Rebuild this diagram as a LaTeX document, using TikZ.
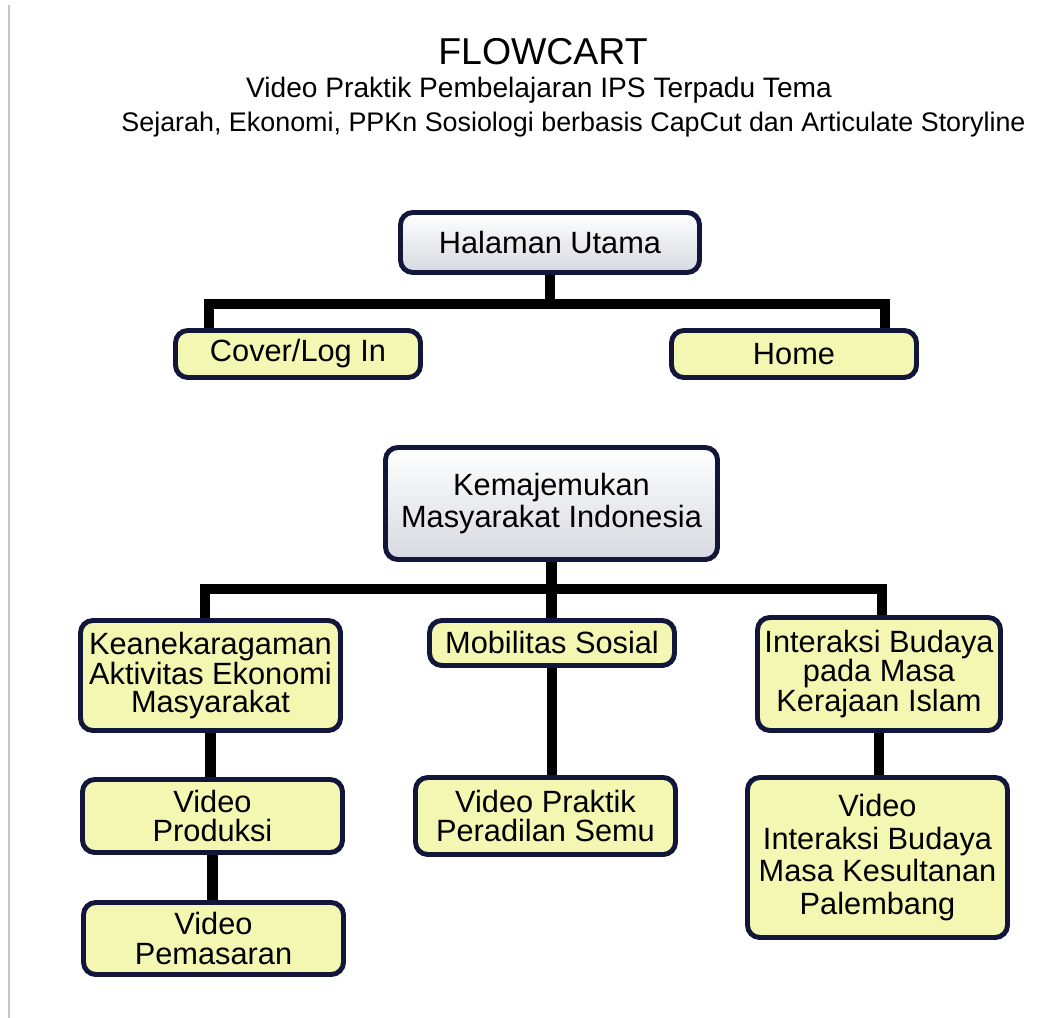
\documentclass[tikz,border=0pt]{standalone}
\usepackage{fontspec}
\setmainfont{Liberation Sans}
\usetikzlibrary{positioning, calc}
\definecolor{navy}{HTML}{11163A}
\definecolor{paleyel}{HTML}{F3F7B2}
\definecolor{cloud}{HTML}{D6D9E0}
\definecolor{edgegray}{HTML}{C4C4C4}

\tikzset{
  graybox/.style={draw=navy, line width=2.8pt, rounded corners=7pt,
    top color=white, bottom color=cloud, align=center, inner sep=2pt,
    font=\fontsize{17.5}{18}\selectfont},
  yelbox/.style={draw=navy, line width=2.8pt, rounded corners=7pt,
    fill=paleyel, align=center, inner sep=2pt,
    font=\fontsize{17.5}{17}\selectfont},
  link/.style={black, line width=6.2pt, line join=miter}
}

\begin{document}
\begin{tikzpicture}

% Page
\useasboundingbox (0,0) rectangle (21.28,-20.36);
\fill[white] (0,0) rectangle (21.28,-20.36);
\draw[edgegray, line width=1.6pt] (0.18,-0.1) -- (0.18,-20.36);

% Title
\node[anchor=base, font=\fontsize{21.3}{24}\selectfont] (title) at (10.86,-1.30) {FLOWCART};
\node[anchor=base, font=\fontsize{16}{18}\selectfont] (sub1) at (10.78,-1.96) {Video Praktik Pembelajaran IPS Terpadu Tema};
\node[anchor=base, font=\fontsize{15.3}{18}\selectfont] (sub2) at (11.47,-2.64) {Sejarah, Ekonomi, PPKn Sosiologi berbasis CapCut dan Articulate Storyline};

% =========== Halaman Utama ===========
\node[graybox, minimum width=5.98cm, minimum height=1.2cm] (utama) at (11.0,-4.85) {Halaman Utama};
\node[yelbox, minimum width=4.9cm, minimum height=0.94cm] (cover) at (5.96,-7.08) {Cover/Log In};
\node[yelbox, minimum width=4.9cm, minimum height=0.94cm] (home) at (15.88,-7.08) {Home};

\coordinate (barAl) at (4.18,-6.08);
\coordinate (barAr) at (17.70,-6.08);
\draw[link] (utama) -- (utama |- barAl);
\draw[link] (barAl |- cover.north) -- (barAl) -- (barAr) -- (barAr |- home.north);

% =========== Kemajemukan ===========
\node[graybox, minimum width=6.64cm, minimum height=2.24cm] (majemuk) at (11.03,-10.07) {Kemajemukan\\Masyarakat Indonesia};

\node[yelbox, minimum width=5.2cm, minimum height=2.2cm,
      font=\fontsize{17.5}{16}\selectfont] (ekonomi) at (4.21,-13.51) {Keanekaragaman\\Aktivitas Ekonomi\\Masyarakat};
\node[yelbox, minimum width=4.9cm, minimum height=0.9cm] (mobilitas) at (11.04,-12.86) {Mobilitas Sosial};
\node[yelbox, minimum width=4.86cm, minimum height=2.26cm] (budaya) at (17.58,-13.48) {Interaksi Budaya\\pada Masa\\Kerajaan Islam};

\node[yelbox, minimum width=5.2cm, minimum height=1.46cm] (produksi) at (4.25,-16.32) {Video\\Produksi};
\node[yelbox, minimum width=5.2cm, minimum height=1.44cm] (pemasaran) at (4.27,-18.77) {Video\\Pemasaran};
\node[yelbox, minimum width=5.2cm, minimum height=1.54cm] (peradilan) at (10.91,-16.32) {Video Praktik\\Peradilan Semu};
\node[yelbox, minimum width=5.2cm, minimum height=3.2cm,
      font=\fontsize{17.5}{18.5}\selectfont] (kesultanan) at (17.55,-17.15) {Video\\Interaksi Budaya\\Masa Kesultanan\\Palembang};

\coordinate (barBl) at (4.10,-11.78);
\coordinate (barBr) at (17.64,-11.78);
\draw[link] (majemuk.south) -- (majemuk.south |- mobilitas.north);
\draw[link] (barBl |- ekonomi.north) -- (barBl) -- (barBr) -- (barBr |- budaya.north);

% Lower columns
\draw[link] (ekonomi.south) -- (ekonomi.south |- produksi.north);
\draw[link] (produksi.south) -- (produksi.south |- pemasaran.north);
\draw[link] (mobilitas.south) -- (mobilitas.south |- peradilan.north);
\draw[link] (budaya.south) -- (budaya.south |- kesultanan.north);

\end{tikzpicture}
\end{document}
